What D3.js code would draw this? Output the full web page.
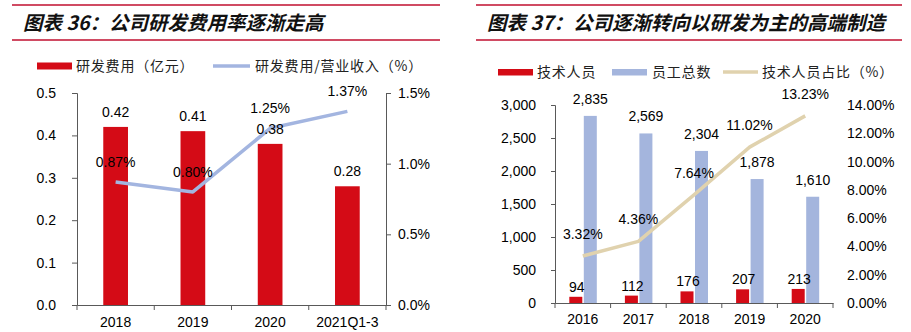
<!DOCTYPE html>
<html><head><meta charset="utf-8">
<script src="https://cdn.jsdelivr.net/npm/d3@7"></script>
<style>
html,body{margin:0;padding:0;background:#fff;}
svg{display:block;}
text{font-family:"Liberation Sans",Arial,sans-serif;}
.cjk{font-family:"Noto Sans CJK SC",sans-serif;}
</style></head><body>
<svg id="c" width="911" height="332"></svg>
<script>
// ---------- data ----------
const title1 = "图表 36：公司研发费用率逐渐走高";
const title2 = "图表 37：公司逐渐转向以研发为主的高端制造";
const years1 = ["2018", "2019", "2020", "2021Q1-3"];
const rdExpense = [0.42, 0.41, 0.38, 0.28];          // 亿元
const rdRatio = [0.87, 0.80, 1.25, 1.37];            // %
const leftTicks1 = [0, 0.1, 0.2, 0.3, 0.4, 0.5];
const rightTicks1 = [0, 0.5, 1.0, 1.5];
const legend1 = ["研发费用（亿元）", "研发费用/营业收入（%）"];

const years2 = ["2016", "2017", "2018", "2019", "2020"];
const techStaff = [94, 112, 176, 207, 213];
const totalStaff = [2835, 2569, 2304, 1878, 1610];
const techRatio = [3.32, 4.36, 7.64, 11.02, 13.23];  // %
const leftTicks2 = [0, 500, 1000, 1500, 2000, 2500, 3000];
const rightTicks2 = [0, 2, 4, 6, 8, 10, 12, 14];
const legend2 = ["技术人员", "员工总数", "技术人员占比（%）"];

// ---------- styles ----------
const RED = "#d40b16", BLUE_BAR = "#a4b5dd", BLUE_LINE = "#a3b5e0", BEIGE = "#e0d2ae";
const RULE = "#c00f2f", AXIS = "#595959", TXT = "#000";

const svg = d3.select("#c");

function header(x0, x1, title) {
  svg.append("line").attr("x1", x0).attr("x2", x1).attr("y1", 5).attr("y2", 5)
    .attr("stroke", RULE).attr("stroke-width", 1.6);
  svg.append("line").attr("x1", x0).attr("x2", x1).attr("y1", 40).attr("y2", 40)
    .attr("stroke", RULE).attr("stroke-width", 1.6);
  svg.append("text").attr("class", "cjk").attr("x", x0 + 11).attr("y", 30)
    .attr("font-size", 19.5).attr("font-weight", "bold").attr("font-style", "italic")
    .attr("fill", "#111").text(title);
}

function styleAxis(g, showDomain) {
  g.selectAll("text").attr("font-size", 14).attr("fill", TXT)
    .attr("font-family", "'Liberation Sans',Arial,sans-serif");
  g.selectAll("line").attr("stroke", AXIS);
  g.select(".domain").attr("stroke", showDomain ? AXIS : "none");
}

// ================= Chart 1 =================
header(12, 440, title1);
{
  const x = d3.scaleBand().domain(years1).range([77, 386]).padding(0);
  const yL = d3.scaleLinear().domain([0, 0.5]).range([305, 93]);
  const yR = d3.scaleLinear().domain([0, 1.5]).range([305, 93]);

  const gl = svg.append("g").attr("transform", "translate(77,0)")
    .call(d3.axisLeft(yL).tickValues(leftTicks1).tickFormat(d3.format(".1f")).tickSizeOuter(0).tickSize(5).tickPadding(16));
  styleAxis(gl, true);
  const gr = svg.append("g").attr("transform", "translate(386,0)")
    .call(d3.axisRight(yR).tickValues(rightTicks1).tickFormat(d => d3.format(".1f")(d) + "%").tickSizeOuter(0).tickSize(5).tickPadding(7));
  styleAxis(gr, true);

  // bars
  const bw = x.bandwidth() * 0.32;
  svg.append("g").selectAll("rect").data(rdExpense).join("rect")
    .attr("x", (d, i) => x(years1[i]) + x.bandwidth() / 2 - bw / 2)
    .attr("y", d => yL(d)).attr("width", bw).attr("height", d => yL(0) - yL(d))
    .attr("fill", RED);

  // x axis
  const gx = svg.append("g").attr("transform", "translate(0,305)")
    .call(d3.axisBottom(x).tickSize(0).tickPadding(12).tickSizeOuter(0));
  styleAxis(gx, true);
  const edges1 = d3.range(years1.length + 1).map(i => x.range()[0] + i * x.step());
  svg.append("g").selectAll("line").data(edges1).join("line")
    .attr("x1", d => d).attr("x2", d => d).attr("y1", 305).attr("y2", 310).attr("stroke", AXIS);

  // line
  const line = d3.line().x((d, i) => x(years1[i]) + x.bandwidth() / 2).y(d => yR(d));
  svg.append("path").datum(rdRatio).attr("d", line).attr("fill", "none")
    .attr("stroke", BLUE_LINE).attr("stroke-width", 3.5).attr("stroke-linejoin", "round");

  // labels
  svg.append("g").selectAll("text").data(rdExpense).join("text")
    .attr("x", (d, i) => x(years1[i]) + x.bandwidth() / 2).attr("y", d => yL(d) - 10)
    .attr("text-anchor", "middle").attr("font-size", 14).attr("fill", TXT)
    .text(d => d3.format(".2f")(d));
  svg.append("g").selectAll("text").data(rdRatio).join("text")
    .attr("x", (d, i) => x(years1[i]) + x.bandwidth() / 2).attr("y", d => yR(d) - 15)
    .attr("text-anchor", "middle").attr("font-size", 14).attr("fill", TXT)
    .text(d => d3.format(".2f")(d) + "%");

  // legend
  svg.append("rect").attr("x", 37).attr("y", 62.5).attr("width", 35).attr("height", 7).attr("fill", RED);
  svg.append("text").attr("class", "cjk").attr("x", 76).attr("y", 71).attr("font-size", 14)
    .attr("letter-spacing", 0.8).attr("fill", "#222").text(legend1[0]);
  svg.append("line").attr("x1", 213).attr("x2", 250).attr("y1", 66).attr("y2", 66)
    .attr("stroke", BLUE_LINE).attr("stroke-width", 3.5);
  svg.append("text").attr("class", "cjk").attr("x", 255).attr("y", 71).attr("font-size", 14)
    .attr("letter-spacing", 0.8).attr("fill", "#222").text(legend1[1]);
}

// ================= Chart 2 =================
header(476, 902, title2);
{
  const x = d3.scaleBand().domain(years2).range([555, 833]).padding(0);
  const yL = d3.scaleLinear().domain([0, 3000]).range([303, 105]);
  const yR = d3.scaleLinear().domain([0, 14]).range([303, 105]);

  const gl = svg.append("g").attr("transform", "translate(555,0)")
    .call(d3.axisLeft(yL).tickValues(leftTicks2).tickFormat(d3.format(",")).tickSizeOuter(0).tickSize(4).tickPadding(15));
  styleAxis(gl, true);
  const gr = svg.append("g").attr("transform", "translate(833,0)")
    .call(d3.axisRight(yR).tickValues(rightTicks2).tickFormat(d => d3.format(".2f")(d) + "%").tickSizeOuter(0).tickSize(0).tickPadding(14));
  styleAxis(gr, false);

  const c = (i) => x(years2[i]) + x.bandwidth() / 2;
  const bw = 13;
  svg.append("g").selectAll("rect").data(techStaff).join("rect")
    .attr("x", (d, i) => c(i) - bw - 0.5).attr("y", d => yL(d)).attr("width", bw)
    .attr("height", d => yL(0) - yL(d)).attr("fill", RED);
  svg.append("g").selectAll("rect").data(totalStaff).join("rect")
    .attr("x", (d, i) => c(i) + 1).attr("y", d => yL(d)).attr("width", bw)
    .attr("height", d => yL(0) - yL(d)).attr("fill", BLUE_BAR);

  const gx = svg.append("g").attr("transform", "translate(0,303)")
    .call(d3.axisBottom(x).tickSize(0).tickPadding(11).tickSizeOuter(0));
  styleAxis(gx, true);
  const edges2 = d3.range(years2.length + 1).map(i => x.range()[0] + i * x.step());
  svg.append("g").selectAll("line").data(edges2).join("line")
    .attr("x1", d => d).attr("x2", d => d).attr("y1", 303).attr("y2", 308).attr("stroke", AXIS);

  const line = d3.line().x((d, i) => c(i)).y(d => yR(d));
  svg.append("path").datum(techRatio).attr("d", line).attr("fill", "none")
    .attr("stroke", BEIGE).attr("stroke-width", 3.5).attr("stroke-linejoin", "round");

  svg.append("g").selectAll("text").data(techStaff).join("text")
    .attr("x", (d, i) => c(i) - 6).attr("y", d => yL(d) - 5)
    .attr("text-anchor", "middle").attr("font-size", 14).attr("fill", TXT)
    .text(d => d3.format(",")(d));
  svg.append("g").selectAll("text").data(totalStaff).join("text")
    .attr("x", (d, i) => c(i) + 7.5).attr("y", d => yL(d) - 12)
    .attr("text-anchor", "middle").attr("font-size", 14).attr("fill", TXT)
    .text(d => d3.format(",")(d));
  svg.append("g").selectAll("text").data(techRatio).join("text")
    .attr("x", (d, i) => c(i)).attr("y", d => yR(d) - 17)
    .attr("text-anchor", "middle").attr("font-size", 14).attr("fill", TXT)
    .text(d => d3.format(".2f")(d) + "%");

  // legend
  svg.append("rect").attr("x", 498).attr("y", 69).attr("width", 35).attr("height", 6.5).attr("fill", RED);
  svg.append("text").attr("class", "cjk").attr("x", 537).attr("y", 77).attr("font-size", 14)
    .attr("letter-spacing", 0.8).attr("fill", "#222").text(legend2[0]);
  svg.append("rect").attr("x", 612).attr("y", 69).attr("width", 35).attr("height", 6.5).attr("fill", BLUE_BAR);
  svg.append("text").attr("class", "cjk").attr("x", 652).attr("y", 77).attr("font-size", 14)
    .attr("letter-spacing", 0.8).attr("fill", "#222").text(legend2[1]);
  svg.append("line").attr("x1", 723).attr("x2", 758).attr("y1", 72).attr("y2", 72)
    .attr("stroke", BEIGE).attr("stroke-width", 3.5);
  svg.append("text").attr("class", "cjk").attr("x", 762).attr("y", 77).attr("font-size", 14)
    .attr("letter-spacing", 0.8).attr("fill", "#222").text(legend2[2]);
}
</script>
</body></html>
